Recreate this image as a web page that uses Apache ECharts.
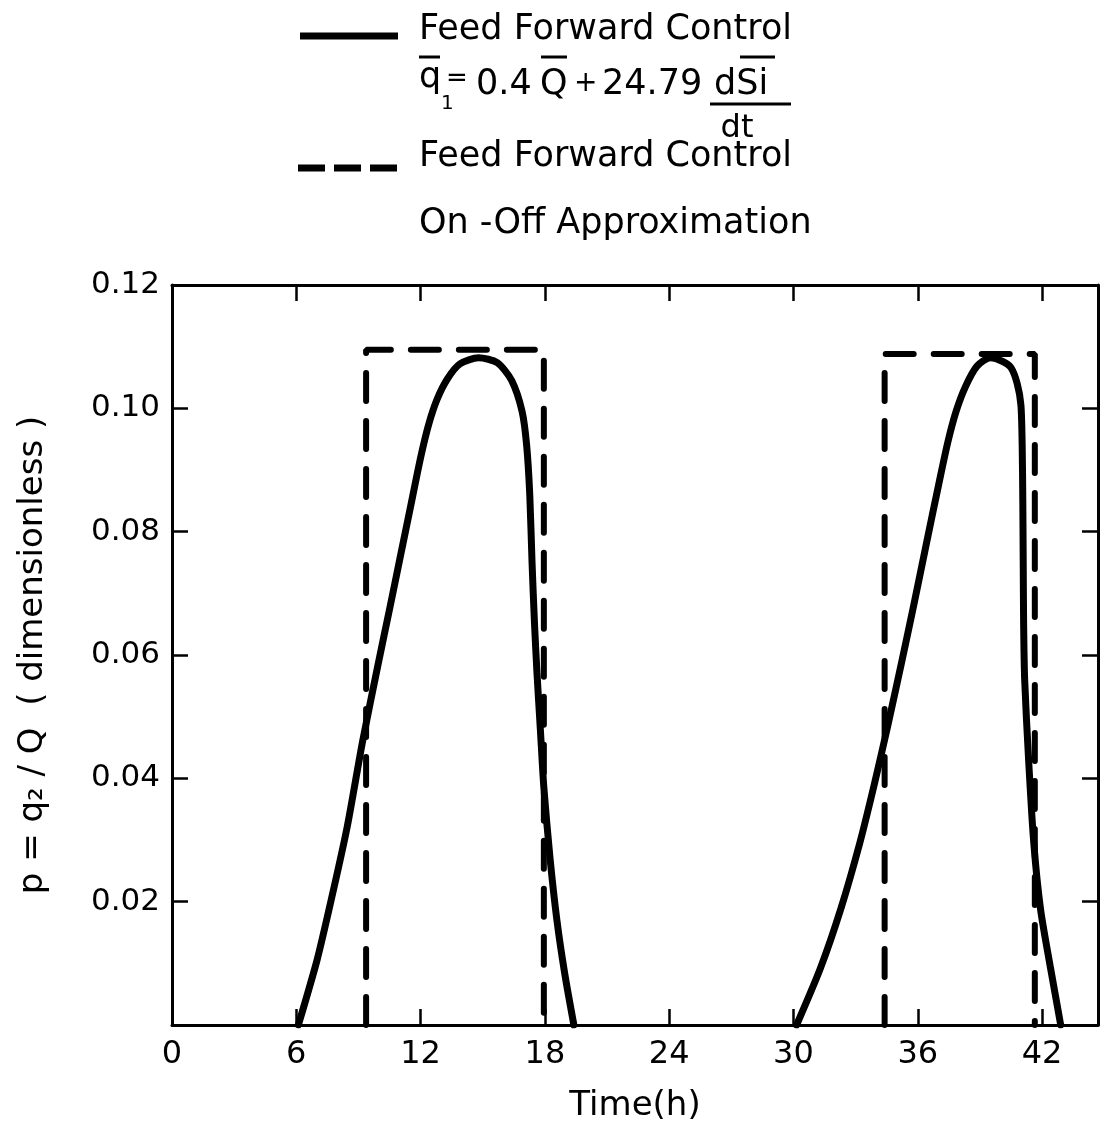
<!DOCTYPE html>
<html>
<head>
<meta charset="utf-8">
<script src="https://cdn.jsdelivr.net/npm/echarts@6/dist/echarts.min.js"></script>
<style>
  html, body { margin: 0; padding: 0; background: #fff; }
  #chart { width: 1104px; height: 1135px; }
</style>
</head>
<body>
<div id="chart"></div>
<script>
// time ticks (h) and p ticks
const timeTicks = [0, 6, 12, 18, 24, 30, 36, 42]
const pTicks = [0.02, 0.04, 0.06, 0.08, 0.10, 0.12]

// feed forward control, first pulse
const ffTime1 = [6.1, 7.0, 7.7, 8.45, 9.2, 9.95, 10.5, 11.0, 11.5, 12.0, 12.4, 12.8, 13.3, 13.9, 14.8, 15.7, 16.4, 16.9, 17.12, 17.27, 17.38, 17.5, 17.62, 17.78, 17.95, 18.25, 18.58, 18.95, 19.4]
const ffValue1 = [0, 0.0105, 0.0205, 0.032, 0.046, 0.0585, 0.0674, 0.0756, 0.0838, 0.092, 0.0975, 0.1015, 0.1048, 0.1072, 0.1082, 0.1074, 0.1045, 0.0995, 0.094, 0.086, 0.075, 0.065, 0.057, 0.048, 0.0385, 0.027, 0.017, 0.0085, 0]

// feed forward control, second pulse
const ffTime2 = [30.15, 31.3, 32.3, 33.2, 33.9, 34.55, 35.2, 35.8, 36.4, 37.0, 37.45, 37.85, 38.3, 38.85, 39.5, 40.1, 40.5, 40.8, 40.98, 41.04, 41.07, 41.09, 41.11, 41.16, 41.35, 41.6, 41.93, 42.4, 42.9]
const ffValue2 = [0, 0.0092, 0.019, 0.0295, 0.039, 0.0485, 0.0585, 0.068, 0.0778, 0.0875, 0.0945, 0.0995, 0.1035, 0.1068, 0.1082, 0.1076, 0.1066, 0.104, 0.1005, 0.094, 0.085, 0.075, 0.065, 0.056, 0.043, 0.0295, 0.0187, 0.0094, 0]

// on-off approximation
const onOffTime1 = [9.37, 9.37, 17.95, 17.95]
const onOffValue1 = [0, 0.1095, 0.1095, 0]
const onOffTime2 = [34.4, 34.4, 41.65, 41.65]
const onOffValue2 = [0, 0.1088, 0.1088, 0]

const zip = (a, b) => a.map((t, i) => [t, b[i]])

const chart = echarts.init(document.getElementById('chart'))
const font = 'DejaVu Sans'

const solidLine = { color: '#000', width: 7, cap: 'round', join: 'round' }
const dashLine = { color: '#000', width: 6, type: [28, 20], cap: 'round' }

const axisLineStyle = { onZero: false, lineStyle: { color: '#000', width: 3 } }
const tickStyle = { inside: true, length: 16, lineStyle: { color: '#000', width: 2.5 } }

chart.setOption({
  backgroundColor: '#fff',
  animation: false,
  grid: { left: 172, top: 285, right: 6, bottom: 110 },
  xAxis: [
    {
      type: 'value', min: 0, max: 44.7, interval: 6, position: 'bottom',
      axisLine: axisLineStyle, axisTick: tickStyle, splitLine: { show: false },
      axisLabel: {
        color: '#000', fontFamily: font, fontSize: 32, margin: 14, showMaxLabel: false,
        formatter: v => timeTicks.includes(v) ? String(v) : ''
      },
      name: 'Time(h)', nameLocation: 'middle', nameGap: 64,
      nameTextStyle: { color: '#000', fontFamily: font, fontSize: 34 }
    },
    {
      type: 'value', min: 0, max: 44.7, interval: 6, position: 'top',
      axisLine: axisLineStyle, axisTick: tickStyle, splitLine: { show: false },
      axisLabel: { show: false }
    }
  ],
  yAxis: [
    {
      type: 'value', min: 0, max: 0.12, interval: 0.02, position: 'left',
      axisLine: axisLineStyle, axisTick: tickStyle, splitLine: { show: false },
      axisLabel: {
        color: '#000', fontFamily: font, fontSize: 31, margin: 12,
        formatter: v => pTicks.some(p => Math.abs(p - v) < 1e-9) ? v.toFixed(2) : ''
      },
      name: 'p = q\u2082 / Q  ( dimensionless )', nameLocation: 'middle', nameRotate: 90, nameGap: 122,
      nameTextStyle: { color: '#000', fontFamily: font, fontSize: 34 }
    },
    {
      type: 'value', min: 0, max: 0.12, interval: 0.02, position: 'right',
      axisLine: axisLineStyle, axisTick: tickStyle, splitLine: { show: false },
      axisLabel: { show: false }
    }
  ],
  series: [
    { name: 'ff1', type: 'line', data: zip(ffTime1, ffValue1), smooth: 0.25, symbol: 'none', lineStyle: solidLine },
    { name: 'ff2', type: 'line', data: zip(ffTime2, ffValue2), smooth: 0.25, symbol: 'none', lineStyle: solidLine },
    { name: 'onoff1', type: 'line', data: zip(onOffTime1, onOffValue1), symbol: 'none', lineStyle: dashLine },
    { name: 'onoff2', type: 'line', data: zip(onOffTime2, onOffValue2), symbol: 'none', lineStyle: dashLine }
  ],
  graphic: [
    // legend: solid
    { type: 'line', shape: { x1: 300, y1: 36, x2: 398, y2: 36 }, style: { stroke: '#000', lineWidth: 7 } },
    { type: 'text', x: 419, y: 30, style: { text: 'Feed Forward Control', font: `35px "${font}"`, fill: '#000', textVerticalAlign: 'middle' } },
    { type: 'text', x: 419, y: 95, style: { text: 'q', font: `35px "${font}"`, fill: '#000', textVerticalAlign: 'bottom' } },
    { type: 'text', x: 441, y: 114, style: { text: '1', font: `20px "${font}"`, fill: '#000', textVerticalAlign: 'bottom' } },
    { type: 'text', x: 446, y: 92, style: { text: '=', font: `26px "${font}"`, fill: '#000', textVerticalAlign: 'bottom' } },
    { type: 'text', x: 476, y: 102, style: { text: '0.4', font: `35px "${font}"`, fill: '#000', textVerticalAlign: 'bottom' } },
    { type: 'text', x: 540, y: 102, style: { text: 'Q', font: `35px "${font}"`, fill: '#000', textVerticalAlign: 'bottom' } },
    { type: 'text', x: 574, y: 98, style: { text: '+', font: `28px "${font}"`, fill: '#000', textVerticalAlign: 'bottom' } },
    { type: 'text', x: 602, y: 102, style: { text: '24.79', font: `35px "${font}"`, fill: '#000', textVerticalAlign: 'bottom' } },
    { type: 'text', x: 714, y: 102, style: { text: 'dSi', font: `35px "${font}"`, fill: '#000', textVerticalAlign: 'bottom' } },
    { type: 'line', shape: { x1: 710, y1: 104, x2: 791, y2: 104 }, style: { stroke: '#000', lineWidth: 3 } },
    { type: 'text', x: 737, y: 145, style: { text: 'dt', font: `32px "${font}"`, fill: '#000', textAlign: 'center', textVerticalAlign: 'bottom' } },
    { type: 'line', shape: { x1: 419, y1: 57, x2: 440, y2: 57 }, style: { stroke: '#000', lineWidth: 3 } },
    { type: 'line', shape: { x1: 541, y1: 57, x2: 567, y2: 57 }, style: { stroke: '#000', lineWidth: 3 } },
    { type: 'line', shape: { x1: 740, y1: 57, x2: 775, y2: 57 }, style: { stroke: '#000', lineWidth: 3 } },
    // legend: dashed
    { type: 'line', shape: { x1: 298, y1: 168, x2: 398, y2: 168 }, style: { stroke: '#000', lineWidth: 7, lineDash: [27, 9] } },
    { type: 'text', x: 419, y: 157, style: { text: 'Feed Forward Control', font: `35px "${font}"`, fill: '#000', textVerticalAlign: 'middle' } },
    { type: 'text', x: 419, y: 224, style: { text: 'On -Off Approximation', font: `35px "${font}"`, fill: '#000', textVerticalAlign: 'middle' } }
  ]
})
</script>
</body>
</html>
